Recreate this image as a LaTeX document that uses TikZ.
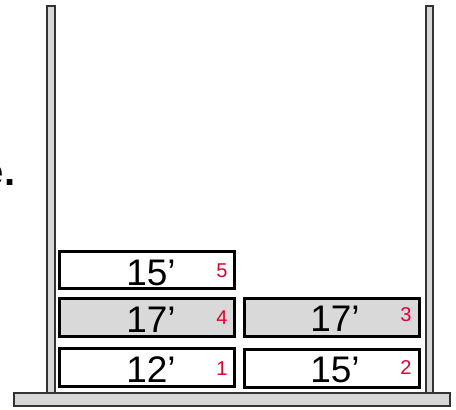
\documentclass[tikz,border=0pt]{standalone}
\usepackage{fontspec}
\setmainfont{Liberation Sans}
\definecolor{boxgray}{RGB}{217,217,217}
\definecolor{postgray}{RGB}{214,214,214}
\definecolor{numred}{RGB}{228,0,50}
\begin{document}
\begin{tikzpicture}[x=1pt,y=-1pt,
  post/.style={draw=black!80,line width=1.3pt,fill=postgray},
  board/.style={draw=black,line width=3pt,minimum width=175pt,minimum height=38pt,inner sep=0pt},
  len/.style={font=\fontsize{37}{37}\selectfont,inner sep=0pt},
  idx/.style={font=\fontsize{20}{20}\selectfont,text=numred,inner sep=0pt}]
\useasboundingbox (0,0) rectangle (456,410);
% fragment of text at left edge
\node[anchor=base east,inner sep=0pt,font=\bfseries\fontsize{40}{40}\selectfont] (frag) at (15.5,185) {e.};
% posts and base
\draw[post] (47,6) rectangle (55,393);
\draw[post] (426,6) rectangle (433,393);
\draw[post] (14,393) rectangle (450,406);
% boards
\node[board,fill=white,minimum height=37pt] (b5) at (147,270) {};
\node[board,fill=boxgray] (b4) at (147,317.5) {};
\node[board,fill=white] (b1) at (147,367.5) {};
\node[board,fill=boxgray] (b3) at (332,317) {};
\node[board,fill=white] (b2) at (332,368) {};
% lengths
\node[len] (t5) at ([xshift=4pt,yshift=-2.5pt]b5.center) {15’};
\node[len] (t4) at ([xshift=4pt,yshift=-2.5pt]b4.center) {17’};
\node[len] (t1) at ([xshift=4pt,yshift=-2.5pt]b1.center) {12’};
\node[len] (t3) at ([xshift=3pt,yshift=-1.5pt]b3.center) {17’};
\node[len] (t2) at ([xshift=3pt,yshift=-1.5pt]b2.center) {15’};
% indices
\node[idx] (n5) at ([xshift=75pt,yshift=-1pt]b5.center) {5};
\node[idx] (n4) at ([xshift=75pt,yshift=0pt]b4.center) {4};
\node[idx] (n1) at ([xshift=75pt,yshift=-1pt]b1.center) {1};
\node[idx] (n3) at ([xshift=74pt,yshift=2pt]b3.center) {3};
\node[idx] (n2) at ([xshift=74pt,yshift=0pt]b2.center) {2};
\end{tikzpicture}
\end{document}
